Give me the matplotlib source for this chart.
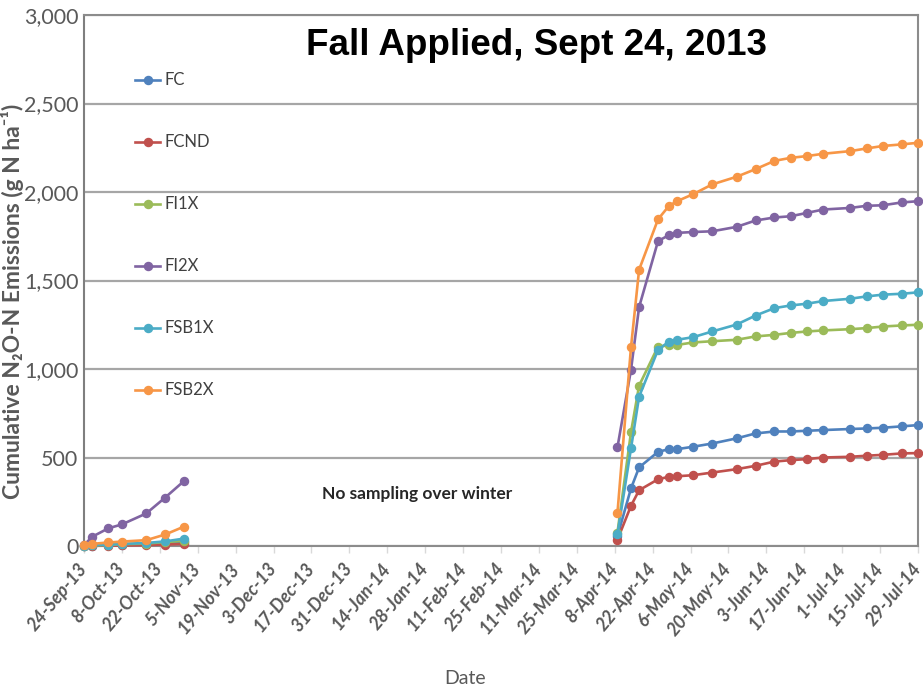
import matplotlib
matplotlib.use("Agg")
import matplotlib.pyplot as plt
import matplotlib.dates as mdates
from matplotlib.ticker import FuncFormatter, MultipleLocator
import datetime as dt

plt.rcParams['font.family'] = ['Lato', 'DejaVu Sans']

# ---- data ----
fall_dates = ["2013-09-24", "2013-09-27", "2013-10-03", "2013-10-08",
              "2013-10-17", "2013-10-24", "2013-10-31"]
spring_dates = ["2014-04-09", "2014-04-14", "2014-04-17", "2014-04-24",
                "2014-04-28", "2014-05-01", "2014-05-07", "2014-05-14",
                "2014-05-23", "2014-05-30", "2014-06-06", "2014-06-12",
                "2014-06-18", "2014-06-24", "2014-07-04", "2014-07-10",
                "2014-07-16", "2014-07-23", "2014-07-29"]

series_names = ["FC", "FCND", "FI1X", "FI2X", "FSB1X", "FSB2X"]
colors = ["#4F81BD", "#C0504D", "#9BBB59", "#8064A2", "#4BACC6", "#F79646"]

fc_fall = [0, 2, 4, 6, 9, 14, 20]
fcnd_fall = [0, 1, 2, 3, 5, 8, 12]
fi1x_fall = [0, 3, 6, 10, 14, 22, 30]
fi2x_fall = [5, 52, 100, 122, 184, 274, 368]
fsb1x_fall = [0, 4, 8, 12, 17, 26, 42]
fsb2x_fall = [5, 12, 20, 25, 33, 65, 110]

fc_spring = [55, 325, 444, 532, 547, 547, 561, 579, 608, 636, 647, 647,
             651, 655, 661, 664, 668, 676, 683]
fcnd_spring = [35, 227, 315, 377, 391, 394, 400, 415, 434, 453, 477, 485,
               491, 500, 504, 510, 515, 523, 525]
fi1x_spring = [75, 642, 906, 1127, 1133, 1136, 1150, 1157, 1165, 1184, 1193,
               1204, 1212, 1218, 1225, 1231, 1240, 1246, 1250]
fi2x_spring = [557, 995, 1350, 1723, 1756, 1769, 1774, 1778, 1803, 1839, 1856,
               1863, 1882, 1901, 1910, 1922, 1925, 1941, 1948]
fsb1x_spring = [66, 551, 844, 1108, 1155, 1165, 1180, 1212, 1251, 1302, 1344,
                1359, 1369, 1384, 1397, 1410, 1420, 1425, 1433]
fsb2x_spring = [185, 1122, 1561, 1846, 1921, 1948, 1988, 2043, 2086, 2129, 2176,
                2193, 2203, 2216, 2231, 2246, 2260, 2269, 2278]

fall_values = [fc_fall, fcnd_fall, fi1x_fall, fi2x_fall, fsb1x_fall, fsb2x_fall]
spring_values = [fc_spring, fcnd_spring, fi1x_spring, fi2x_spring, fsb1x_spring, fsb2x_spring]

title = "Fall Applied, Sept 24, 2013"
note = "No sampling over winter"
note_date, note_value = "2013-12-21", 294
y_label = "Cumulative N\u2082O-N Emissions (g N ha\u207b\u00b9)"
x_label = "Date"
x_start, x_end = "2013-09-24", "2014-07-29"

# ---- plot ----
to_d = lambda s: dt.datetime.strptime(s, "%Y-%m-%d")
fd = [to_d(s) for s in fall_dates]
sd = [to_d(s) for s in spring_dates]

fig = plt.figure(figsize=(9.23, 6.90), dpi=100)
ax = fig.add_axes([84/923, 1-546/690, (918-84)/923, (546-15)/690])

grid_c = "#A6A6A6"
for name, c, fv, sv in zip(series_names, colors, fall_values, spring_values):
    ax.plot(fd, fv, color=c, lw=1.9, marker='o', ms=5.8, clip_on=False, zorder=3, label=name)
    ax.plot(sd, sv, color=c, lw=1.9, marker='o', ms=5.8, clip_on=False, zorder=3)

ax.set_ylim(0, 3000)
ax.set_xlim(to_d(x_start), to_d(x_end))
ax.yaxis.set_major_locator(MultipleLocator(500))
ax.yaxis.set_major_formatter(FuncFormatter(lambda v, p: f"{int(v):,}"))
ax.grid(axis='y', color=grid_c, lw=1.6, zorder=0)
ax.set_axisbelow(True)

ticks = mdates.drange(to_d(x_start), to_d(x_end) + dt.timedelta(days=1), dt.timedelta(days=14))
ax.set_xticks(ticks)
ax.xaxis.set_major_formatter(FuncFormatter(
    lambda v, p: mdates.num2date(v).strftime("%d-%b-%y").lstrip("0")))
ax.tick_params(axis='x', length=5, color="#D9D9D9", width=1, labelsize=13,
               labelcolor="#595959", pad=9)
for lab in ax.get_xticklabels():
    lab.set_rotation(50)
    lab.set_ha('right')
    lab.set_va('center')
    lab.set_rotation_mode('anchor')
    lab.set_style('italic')
    lab.set_fontweight('bold')
ax.tick_params(axis='y', length=0, labelsize=15.5, labelcolor="#595959", pad=4)

ax.spines['left'].set_color("#7F7F7F")
ax.spines['left'].set_linewidth(1.5)
for s in ['top', 'right', 'bottom']:
    ax.spines[s].set_color("#8C8C8C")
    ax.spines[s].set_linewidth(1.5)

ax.set_ylabel(y_label, fontsize=16.5, fontweight='bold', color="#595959")
ax.yaxis.set_label_coords((13-84)/834, 0.46)
ax.yaxis.label.set_va('center')
ax.set_xlabel(x_label, fontsize=14, color="#595959")
ax.xaxis.set_label_coords((465-84)/834, (546-678)/531)
ax.xaxis.label.set_va('center')

ax.text(0.543, 0.942, title, transform=ax.transAxes, ha='center', va='center',
        fontsize=26.5, fontweight='bold', family='Liberation Sans', color='black')
ax.text(to_d(note_date), note_value, note, ha='left', va='center', fontsize=12.5,
        fontweight='bold', color='#262626')

leg = ax.legend(loc='upper left', bbox_to_anchor=(0.0432, 0.920), frameon=False,
                fontsize=12, labelspacing=2.76, handlelength=1.5, handletextpad=0.24,
                labelcolor="#404040")

fig.savefig("out.png", dpi=100)
